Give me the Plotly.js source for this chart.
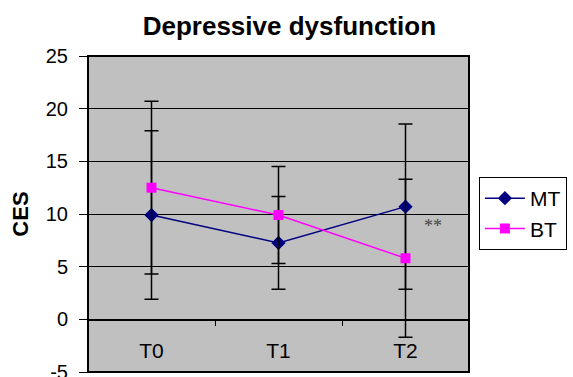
<!DOCTYPE html>
<html>
<head>
<meta charset="utf-8">
<script src="https://cdn.plot.ly/plotly-3.0.1.min.js"></script>
<style>html,body{margin:0;padding:0;background:#fff;}#chart{width:573px;height:377px;}</style>
</head>
<body>
<div id="chart"></div>
<script>
const categories = ["T0", "T1", "T2"];
const mtValues = [9.9, 7.25, 10.7];
const mtErrors = [8.0, 4.4, 7.85];
const btValues = [12.5, 9.9, 5.8];
const btErrors = [8.2, 4.6, 7.5];
const yTickValues = [-5, 0, 5, 10, 15, 20, 25];
const annotationText = "**";
const annotationPos = {x: "T2", y: 8.9};

const FONT = "Liberation Sans, Arial, sans-serif";

const traces = [
  {
    x: categories, y: mtValues, name: "MT", type: "scatter", mode: "lines+markers",
    line: {color: "#000080", width: 1.5},
    marker: {symbol: "diamond", size: 11, color: "#000080"},
    error_y: {type: "data", array: mtErrors, visible: true, color: "#000000", thickness: 1.5, width: 7}
  },
  {
    x: categories, y: btValues, name: "BT", type: "scatter", mode: "lines+markers",
    line: {color: "#FF00FF", width: 1.5},
    marker: {symbol: "square", size: 10, color: "#FF00FF"},
    error_y: {type: "data", array: btErrors, visible: true, color: "#000000", thickness: 1.5, width: 7}
  }
];

const layout = {
  width: 573, height: 377,
  margin: {l: 88, r: 104, t: 56, b: 5},
  paper_bgcolor: "#ffffff",
  plot_bgcolor: "#c0c0c0",
  font: {family: FONT, color: "#000000", size: 20},
  title: {text: "<b>Depressive dysfunction</b>", font: {family: FONT, size: 26, color: "#000"}, x: 0.505, xanchor: "center", y: 0.93, yanchor: "middle"},
  xaxis: {
    type: "category", range: [-0.5, 2.5],
    anchor: "free", position: 5 / 30,
    showline: true, linecolor: "#000", linewidth: 1.5,
    ticks: "outside", tickson: "boundaries", ticklen: 5, tickcolor: "#000", tickwidth: 1,
    showgrid: false, zeroline: false,
    tickfont: {family: FONT, size: 21, color: "#000"},
    ticklabelstandoff: 12
  },
  yaxis: {
    range: [-5, 25], tickvals: yTickValues, ticktext: yTickValues.map(String),
    showgrid: true, gridcolor: "#000", gridwidth: 1,
    zeroline: false,
    showline: false,
    ticks: "outside", ticklen: 8, tickcolor: "#000", tickwidth: 1,
    tickfont: {family: FONT, size: 20, color: "#000"},
    ticklabelstandoff: 7,
    ticklabeloverflow: "allow",
    title: {text: "<b>CES</b>", font: {family: FONT, size: 22, color: "#000"}, standoff: 11}
  },
  showlegend: true,
  legend: {
    x: 1.026, xanchor: "left", y: 0.617, yanchor: "top",
    bgcolor: "#ffffff", bordercolor: "#000", borderwidth: 1,
    font: {family: FONT, size: 21, color: "#000"},
    itemwidth: 40, tracegroupgap: 0
  },
  shapes: [
    {type: "rect", xref: "paper", yref: "paper", x0: 0, x1: 1, y0: 0, y1: 1, line: {color: "#000", width: 2}, fillcolor: "rgba(0,0,0,0)"}
  ],
  annotations: [
    {x: annotationPos.x, y: annotationPos.y, xref: "x", yref: "y", text: annotationText, showarrow: false, xshift: 27, font: {family: "Liberation Serif, serif", size: 18, color: "#444"}}
  ]
};

Plotly.newPlot("chart", traces, layout, {displayModeBar: false, staticPlot: true});
</script>
</body>
</html>
